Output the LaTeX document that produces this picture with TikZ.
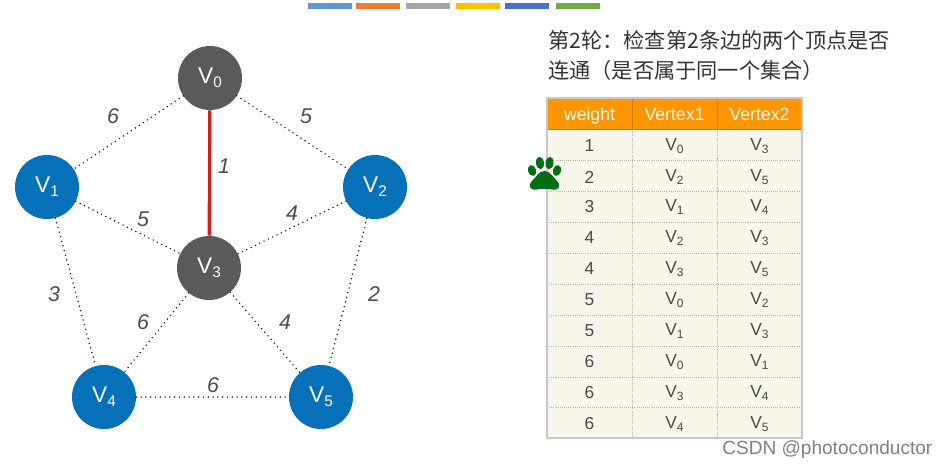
\documentclass[tikz,border=0pt]{standalone}
\usepackage{fontspec}
\setmainfont{Liberation Sans}
\newfontfamily\cjk{Noto Sans CJK SC}
\definecolor{vblue}{HTML}{0670B8}
\definecolor{vgray}{HTML}{5A5A5A}
\definecolor{hdr}{HTML}{FF9500}
\definecolor{cellbg}{HTML}{F8F5EA}
\definecolor{cellline}{HTML}{B9B6A8}
\definecolor{txt}{HTML}{333333}
\definecolor{celltxt}{HTML}{4A4A4A}
\definecolor{paw}{HTML}{006E12}
\definecolor{edgered}{HTML}{D0201A}
\tikzset{
  x=0.75pt,y=-0.75pt,
  vert/.style={circle,minimum size=48pt,inner sep=0pt,text=white,font=\fontsize{17}{18}\selectfont},
  vb/.style={vert,fill=vblue},
  vg/.style={vert,fill=vgray},
  edgeline/.style={draw=black,line width=1.15pt,line cap=round,dash pattern=on 0pt off 3.6pt},
  weightlabel/.style={font=\fontsize{16}{18}\selectfont\itshape,text=black!70,inner sep=0pt},
  cell/.style={font=\fontsize{13}{14}\selectfont,text=celltxt,inner sep=0pt,anchor=center},
  headcell/.style={font=\fontsize{13.2}{14}\selectfont,text=white,inner sep=0pt,anchor=base},
  topbar/.style={minimum width=33pt,minimum height=4pt,inner sep=0pt},
  head/.style={font=\cjk\fontsize{15.9}{22.5}\selectfont,text=txt,inner sep=0pt,anchor=north west,align=left}
}
\newcommand{\Vs}[2]{\raisebox{-0.08em}{V\raisebox{-0.16em}{\fontsize{#2}{#2}\selectfont #1}}}
\begin{document}
\begin{tikzpicture}
\useasboundingbox (0,0) rectangle (947,469);
% top colour bars
\foreach \n/\xx/\cc in {a/330/5B9BD5,b/378/ED7D31,c/428/A5A5A5,d/478/FFC000,e/527/4472C4,f/578/70AD47}{
  \definecolor{barc}{HTML}{\cc}
  \node[topbar,fill=barc] (bar\n) at (\xx,6) {};
}
% vertices
\node[vg] (v0) at (210,78) {\Vs{0}{11.5}};
\node[vb] (v1) at (47,187) {\Vs{1}{11.5}};
\node[vb] (v2) at (375,187) {\Vs{2}{11.5}};
\node[vg] (v3) at (209,268) {\Vs{3}{11.5}};
\node[vb] (v4) at (104,397) {\Vs{4}{11.5}};
\node[vb] (v5) at (321,397) {\Vs{5}{11.5}};
% edges
\draw[edgeline] (v0) -- (v1);
\draw[edgeline] (v0) -- (v2);
\draw[edgeline] (v1) -- (v3);
\draw[edgeline] (v2) -- (v3);
\draw[edgeline] (v1) -- (v4);
\draw[edgeline] (v2) -- (v5);
\draw[edgeline] (v3) -- (v4);
\draw[edgeline] (v3) -- (v5);
\draw[edgeline] (v4) -- (v5);
\draw[edgered,line width=2.4pt] (v0) -- (v3);
% weights
\node[weightlabel] (w01) at (113,116) {6};
\node[weightlabel] (w02) at (306,116) {5};
\node[weightlabel] (w03) at (224,166) {1};
\node[weightlabel] (w13) at (143,219) {5};
\node[weightlabel] (w23) at (292,213) {4};
\node[weightlabel] (w14) at (54,294) {3};
\node[weightlabel] (w25) at (374,294) {2};
\node[weightlabel] (w34) at (143,322) {6};
\node[weightlabel] (w35) at (285,322) {4};
\node[weightlabel] (w45) at (213,385) {6};
% heading
\node[head] (title) at (548,30) {第2轮：检查第2条边的两个顶点是否\\连通（是否属于同一个集合）};
% table
\fill[cellbg] (547,129) rectangle (802,438);
\fill[hdr] (547,98) rectangle (802,129);
\foreach \yy in {160,191,222,253,284,315,346,377,407}
  \draw[cellline,line width=0.6pt,densely dotted] (547,\yy) -- (802,\yy);
\foreach \xx in {632,717}{
  \draw[cellline,line width=0.6pt,densely dotted] (\xx,129) -- (\xx,438);
  \draw[hdr!80!black,line width=0.6pt] (\xx,98) -- (\xx,129);
}
\draw[hdr!80!black,line width=0.6pt] (547,129) -- (802,129);
\draw[black!22,line width=0.8pt] (547,98) rectangle (802,438);
\node[headcell] (hw) at (589.5,120) {weight};
\node[headcell] (h1) at (674.5,120) {Vertex1};
\node[headcell] (h2) at (759.5,120) {Vertex2};
\foreach \r/\yy/\w/\a/\b in {1/146/1/0/3,2/177/2/2/5,3/207/3/1/4,4/238/4/2/3,5/269/4/3/5,6/300/5/0/2,7/331/5/1/3,8/362/6/0/1,9/393/6/3/4,10/424/6/4/5}{
  \node[cell] (cw\r) at (589.5,\yy) {\w};
  \node[cell] (ca\r) at (674.5,\yy) {\Vs{\a}{9}};
  \node[cell] (cb\r) at (759.5,\yy) {\Vs{\b}{9}};
}
% paw
\fill[paw] (544.5,171) .. controls (550,171) and (553,177) .. (557,181)
  .. controls (562,186) and (558,191) .. (552,189.5)
  .. controls (549,188.7) and (540,188.7) .. (537,189.5)
  .. controls (531,191) and (527,186) .. (532,181)
  .. controls (536,177) and (539,171) .. (544.5,171) -- cycle;
\fill[paw,rotate around={15:(532,170.5)}] (532,170.5) ellipse (4 and 5.5);
\fill[paw,rotate around={8:(540,163)}] (540,163) ellipse (4 and 6.2);
\fill[paw,rotate around={-8:(549.5,163)}] (549.5,163) ellipse (4 and 6.2);
\fill[paw,rotate around={-15:(557,170.5)}] (557,170.5) ellipse (4 and 5.5);
% watermark
\node[font=\fontsize{14.3}{15}\selectfont,text=black!50,inner sep=0pt,anchor=west] (wm) at (722,450) {CSDN @photoconductor};
\end{tikzpicture}
\end{document}
